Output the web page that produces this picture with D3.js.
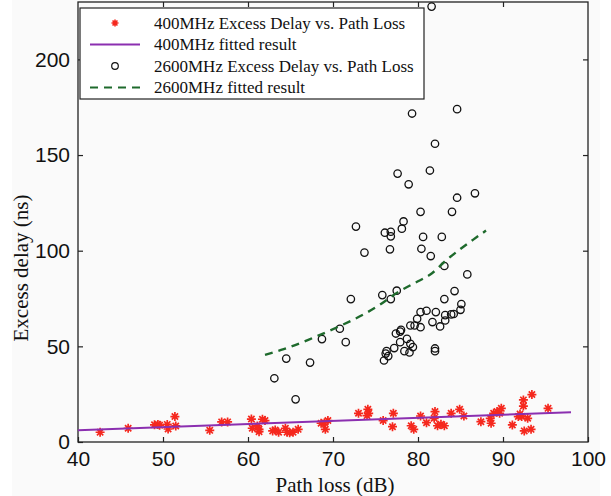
<!DOCTYPE html>
<html>
<head>
<meta charset="utf-8">
<script src="https://cdn.jsdelivr.net/npm/d3@7"></script>
<style>
  body { margin: 0; background: #fff; }
  svg { display: block; font-family: "Liberation Serif", "Times New Roman", serif; }
</style>
</head>
<body>
<div id="chart"></div>
<script>
// data
const loss400 = [42.6, 45.9, 49.0, 49.4, 49.6, 50.5, 50.6, 51.4, 51.5, 55.5, 56.9, 57.6,
  60.4, 60.5, 61.1, 61.3, 61.3, 61.7, 62.0, 62.9, 63.2, 63.6, 64.4, 64.6, 64.9, 65.3, 65.9,
  68.6, 69.0, 69.4, 69.1, 73.0, 74.1, 74.2, 74.0, 75.9, 77.1, 77.0, 79.2, 79.5, 80.3, 81.0,
  81.9, 82.0, 82.3, 82.7, 83.1, 83.9, 84.9, 85.4, 87.4, 88.5, 88.6, 88.9, 89.3, 89.8, 89.6,
  91.1, 91.8, 92.2, 92.0, 92.4, 92.4, 93.4, 92.9, 92.5, 93.3, 95.3];
const delay400 = [5.1, 7.2, 9.0, 9.2, 8.8, 9.2, 6.8, 13.3, 8.4, 6.1, 10.5, 10.5,
  12.0, 7.2, 8.4, 6.6, 5.4, 11.9, 11.2, 5.8, 6.3, 5.1, 7.2, 5.1, 4.9, 5.1, 6.6,
  9.8, 10.1, 11.2, 6.6, 15.0, 17.1, 15.0, 13.8, 11.2, 15.0, 8.0, 8.5, 6.6, 13.6, 10.1,
  12.4, 15.9, 8.5, 9.3, 8.5, 15.0, 17.1, 13.6, 10.6, 12.4, 9.8, 15.0, 15.9, 17.6, 15.0,
  8.9, 13.3, 13.3, 14.7, 22.0, 18.8, 24.8, 12.4, 5.8, 6.6, 17.6];

const loss2600 = [81.6, 79.3, 84.6, 82.0, 77.6, 81.4, 78.9, 86.7, 84.6, 80.3, 84.0, 78.3,
  72.7, 78.1, 76.1, 76.8, 76.8, 80.6, 82.8, 76.7, 80.4, 73.7, 81.5, 83.1, 85.8, 77.5,
  75.8, 76.8, 72.1, 84.3, 83.1, 85.1, 85.0, 80.3, 81.0, 82.1, 83.9, 84.2, 83.2, 79.9,
  83.2, 81.7, 79.6, 79.1, 80.3, 82.6, 70.8, 78.0, 77.9, 77.4, 68.7, 78.7, 77.9, 79.1,
  79.4, 71.5, 77.2, 78.4, 79.0, 82.0, 82.0, 76.3, 76.2, 76.5, 76.0, 64.5, 67.3, 63.1, 65.6];
const delay2600 = [227.6, 171.7, 174.0, 155.9, 140.3, 141.9, 134.7, 130.0, 127.7, 120.3, 120.3, 115.3,
  112.6, 111.5, 109.4, 109.9, 107.5, 107.2, 107.2, 100.7, 101.0, 99.0, 97.2, 92.0, 87.6, 79.1,
  76.8, 74.7, 74.7, 78.9, 74.7, 72.1, 69.1, 67.9, 68.6, 67.9, 66.7, 66.9, 66.3, 64.4,
  63.5, 62.7, 60.9, 60.9, 60.0, 60.4, 59.2, 58.6, 57.7, 56.7, 53.8, 53.9, 52.2, 51.3,
  49.6, 52.2, 49.1, 47.5, 46.8, 48.9, 47.5, 47.5, 46.2, 44.9, 42.6, 43.6, 41.5, 33.3, 22.3];

// fitted curves
const fit400Loss = [40, 98];
const fit400Delay = [6.2, 15.5];
const fit2600Loss = [62.0, 64.2, 67.3, 70.6, 73.8, 75.5, 77.5, 80.0, 81.4, 83.4, 86.5, 88.0];
const fit2600Delay = [45.5, 48.5, 53.8, 60.2, 67.2, 71.7, 77.9, 84.0, 87.4, 95.3, 105.8, 110.5];

const xTicks = [40, 50, 60, 70, 80, 90, 100];
const yTicks = [0, 50, 100, 150, 200];
const legendLabels = [
  "400MHz Excess Delay vs. Path Loss",
  "400MHz fitted result",
  "2600MHz Excess Delay vs. Path Loss",
  "2600MHz fitted result"
];

const W = 611, H = 496;
const margin = { top: 2, right: 23, bottom: 54, left: 78 };
const width = W - margin.left - margin.right,
      height = H - margin.top - margin.bottom;

const red = "#f5281e", purple = "#8b2fb0", green = "#1e6a2c";

const svg = d3.select("#chart").append("svg")
    .attr("width", W)
    .attr("height", H);

svg.append("rect")
    .attr("x", 12).attr("y", 0)
    .attr("width", 588).attr("height", H)
    .attr("fill", "#fafafa");

const g = svg.append("g")
    .attr("transform", "translate(" + margin.left + "," + margin.top + ")");

const x = d3.scaleLinear().domain([40, 100]).range([0, width]);
const y = d3.scaleLinear().domain([0, 230]).range([height, 0]);

g.append("defs").append("clipPath").attr("id", "clip")
  .append("rect").attr("width", width).attr("height", height);

// axes, ticks inward on all four sides
const tickLen = 5;
g.append("g")
    .attr("transform", "translate(0," + height + ")")
    .call(d3.axisBottom(x).tickValues(xTicks).tickSizeInner(-tickLen).tickSizeOuter(0).tickPadding(9))
    .call(a => a.select(".domain").remove())
    .call(a => a.selectAll("text").style("font-size", "21px").attr("fill", "#111"));
g.append("g")
    .call(d3.axisTop(x).tickValues(xTicks.slice(1, -1)).tickSizeInner(-tickLen).tickSizeOuter(0).tickFormat(""))
    .call(a => a.select(".domain").remove());
g.append("g")
    .call(d3.axisLeft(y).tickValues(yTicks).tickSizeInner(-tickLen).tickSizeOuter(0).tickPadding(8))
    .call(a => a.select(".domain").remove())
    .call(a => a.selectAll("text").style("font-size", "21px").attr("fill", "#111"));
g.append("g")
    .attr("transform", "translate(" + width + ",0)")
    .call(d3.axisRight(y).tickValues(yTicks.slice(1)).tickSizeInner(-tickLen).tickSizeOuter(0).tickFormat(""))
    .call(a => a.select(".domain").remove());
g.selectAll(".tick line").attr("stroke", "#222").attr("stroke-width", 1.2);

// frame
g.append("rect")
    .attr("width", width).attr("height", height)
    .attr("fill", "none").attr("stroke", "#222").attr("stroke-width", 1.3);

const plot = g.append("g").attr("clip-path", "url(#clip)");

// 2600MHz circles
plot.selectAll("circle.c2600")
  .data(loss2600.map((d, i) => [d, delay2600[i]]))
  .enter().append("circle")
    .attr("class", "c2600")
    .attr("cx", d => x(d[0]))
    .attr("cy", d => y(d[1]))
    .attr("r", 3.7)
    .attr("fill", "none")
    .attr("stroke", "#111")
    .attr("stroke-width", 1.3);

// asterisk marker like matlab '*'
const star = (s) => {
  const d = s * 0.7;
  return `M${-s},0L${s},0M0,${-s}L0,${s}M${-d},${-d}L${d},${d}M${-d},${d}L${d},${-d}`;
};

plot.selectAll("path.s400")
  .data(loss400.map((d, i) => [d, delay400[i]]))
  .enter().append("path")
    .attr("class", "s400")
    .attr("transform", d => "translate(" + x(d[0]) + "," + y(d[1]) + ")")
    .attr("d", star(4.5))
    .attr("stroke", red)
    .attr("stroke-width", 1.7);

const line = d3.line().x(d => x(d[0])).y(d => y(d[1]));

plot.append("path")
    .datum(fit400Loss.map((d, i) => [d, fit400Delay[i]]))
    .attr("d", line)
    .attr("fill", "none")
    .attr("stroke", purple)
    .attr("stroke-width", 2);

plot.append("path")
    .datum(fit2600Loss.map((d, i) => [d, fit2600Delay[i]]))
    .attr("d", line.curve(d3.curveMonotoneX))
    .attr("fill", "none")
    .attr("stroke", green)
    .attr("stroke-width", 2.4)
    .attr("stroke-dasharray", "8,6");

// axis labels
svg.append("text")
    .attr("x", margin.left + width / 2 + 2)
    .attr("y", 492)
    .attr("text-anchor", "middle")
    .style("font-size", "21px")
    .attr("fill", "#111")
    .text("Path loss (dB)");
svg.append("text")
    .attr("transform", "translate(28," + (margin.top + height / 2 + 46) + ")rotate(-90)")
    .attr("text-anchor", "middle")
    .style("font-size", "21px")
    .attr("fill", "#111")
    .text("Excess delay (ns)");

// legend
const leg = svg.append("g").attr("transform", "translate(80,8)");
leg.append("rect")
    .attr("width", 344).attr("height", 91)
    .attr("fill", "#fff").attr("stroke", "#222").attr("stroke-width", 1.2);
const rowY = i => 15 + i * 21.5;
leg.append("path")
    .attr("transform", "translate(35," + rowY(0) + ")")
    .attr("d", star(3.5)).attr("stroke", red).attr("stroke-width", 1.6);
leg.append("line")
    .attr("x1", 10).attr("x2", 60).attr("y1", rowY(1)).attr("y2", rowY(1))
    .attr("stroke", purple).attr("stroke-width", 2);
leg.append("circle")
    .attr("cx", 35).attr("cy", rowY(2)).attr("r", 3.3)
    .attr("fill", "none").attr("stroke", "#111").attr("stroke-width", 1.2);
leg.append("line")
    .attr("x1", 10).attr("x2", 60).attr("y1", rowY(3)).attr("y2", rowY(3))
    .attr("stroke", green).attr("stroke-width", 2.2).attr("stroke-dasharray", "8,6");
leg.selectAll("text.lab")
  .data(legendLabels)
  .enter().append("text")
    .attr("class", "lab")
    .attr("x", 74)
    .attr("y", (d, i) => rowY(i))
    .attr("dy", "0.35em")
    .style("font-size", "17px")
    .attr("fill", "#111")
    .text(d => d);
</script>
</body>
</html>
